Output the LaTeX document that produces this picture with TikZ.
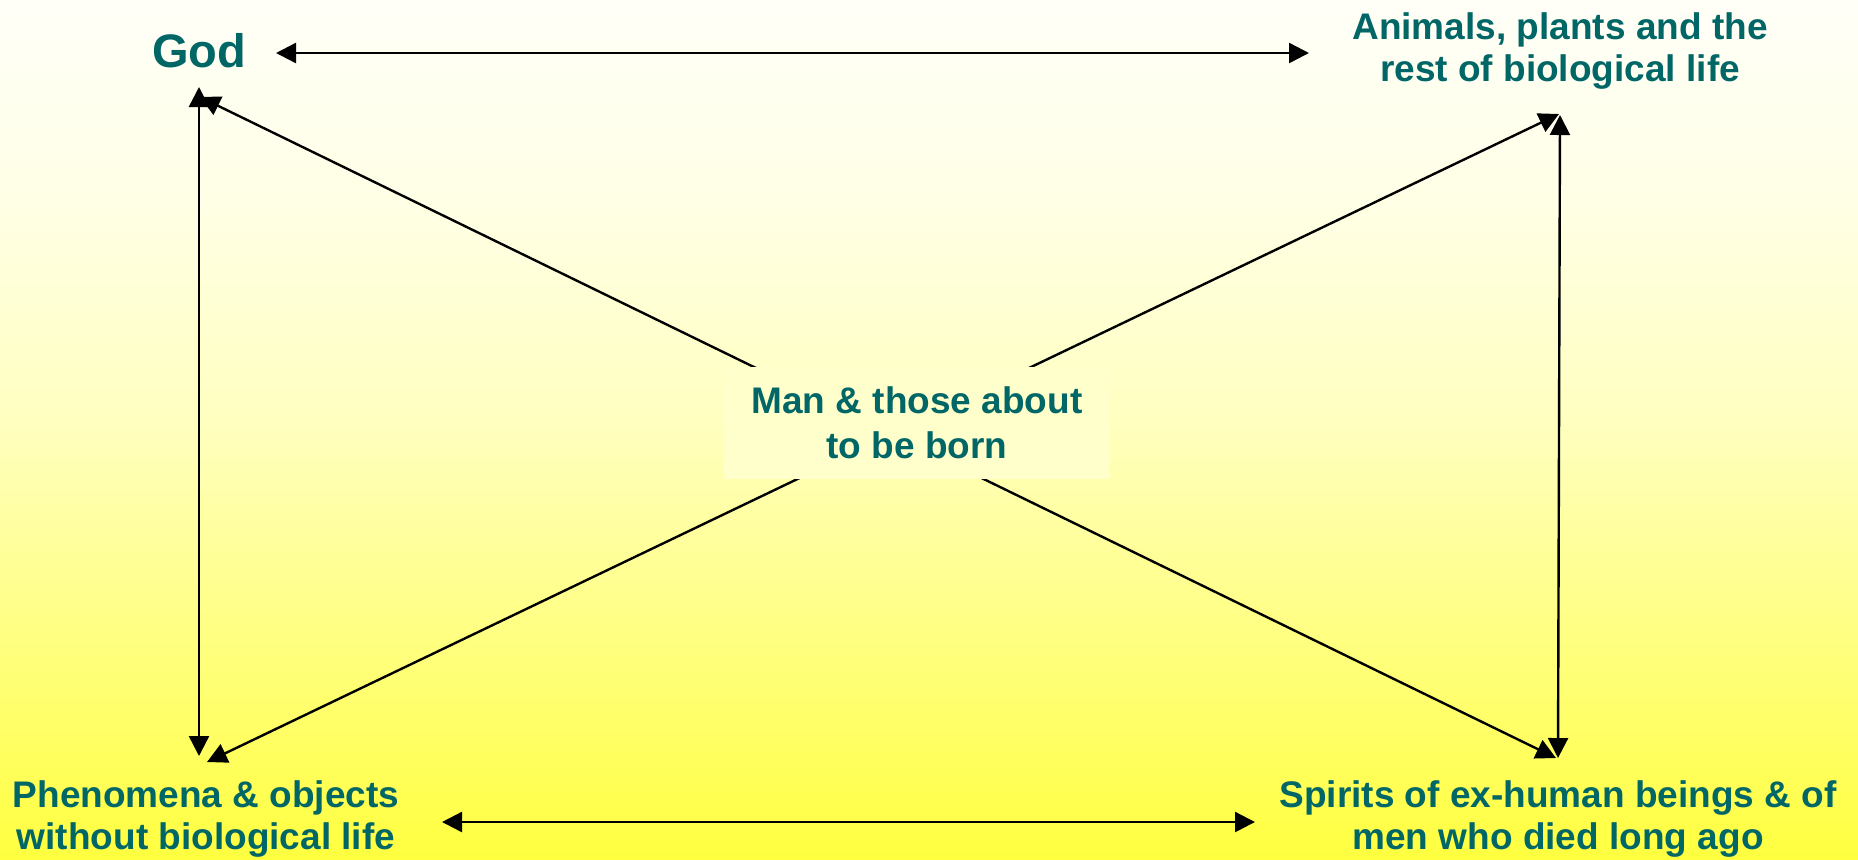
\documentclass[tikz,border=0pt]{standalone}
\usepackage{fontspec}
\setmainfont{Liberation Sans}
\usetikzlibrary{arrows.meta}
\definecolor{labelTeal}{RGB}{0,102,102}
\definecolor{manFill}{RGB}{255,255,204}
\definecolor{bgA}{RGB}{255,255,64}
\definecolor{bgB}{RGB}{255,255,128}
\definecolor{bgC}{RGB}{255,255,192}
\definecolor{bgD}{RGB}{255,255,230}
\definecolor{bgE}{RGB}{255,255,248}
\pgfdeclareverticalshading{bgShade}{100bp}{color(0bp)=(bgA); color(25bp)=(bgA); color(37.7bp)=(bgB); color(50.6bp)=(bgC); color(63.4bp)=(bgD); color(75bp)=(bgE); color(100bp)=(bgE)}
\tikzset{
  lbl/.style={text=labelTeal, font=\bfseries\fontsize{18.5}{21}\selectfont, align=center, inner sep=0pt},
  link/.style={draw=black, line width=1.2pt, >={Triangle[length=10pt,width=10pt]}, <->},
}

\begin{document}
\begin{tikzpicture}[x=0.5pt,y=-0.5pt]
\shade[shading=bgShade] (0,0) rectangle (1858,859);
\useasboundingbox (0,0) rectangle (1858,859);
\node[lbl, font=\bfseries\fontsize{23.5}{26}\selectfont] (god) at (199,51) {God};
\node[lbl] (animals) at (1560,51) {Animals, plants and the\\rest of biological life};
\node[lbl] (phenomena) at (206,819) {Phenomena \& objects\\without biological life};
\node[lbl] (spirits) at (1558,819) {Spirits of ex-human beings \& of\\men who died long ago};
\coordinate (godR) at (276,53);
\coordinate (godB) at (199,87);
\coordinate (godD) at (200,97);
\coordinate (animalsL) at (1309,53);
\coordinate (animalsB) at (1560,115);
\coordinate (animalsD) at (1559,114);
\coordinate (phenT) at (199,756);
\coordinate (phenD) at (207,762);
\coordinate (phenR) at (442,822);
\coordinate (spiritsT) at (1558,758);
\coordinate (spiritsD) at (1556,758);
\coordinate (spiritsL) at (1255,822);
\draw[link] (godR) -- (animalsL);
\draw[link] (godB) -- (phenT);
\draw[link] (animalsB) -- (spiritsT);
\draw[link] (phenR) -- (spiritsL);
\draw[link] (godD) -- (spiritsD);
\draw[link] (animalsD) -- (phenD);
\node[lbl, fill=manFill, font=\bfseries\fontsize{18.5}{22.5}\selectfont, minimum width=193pt, minimum height=56pt] (man) at (917,423) {Man \& those about\\to be born};
\end{tikzpicture}
\end{document}
